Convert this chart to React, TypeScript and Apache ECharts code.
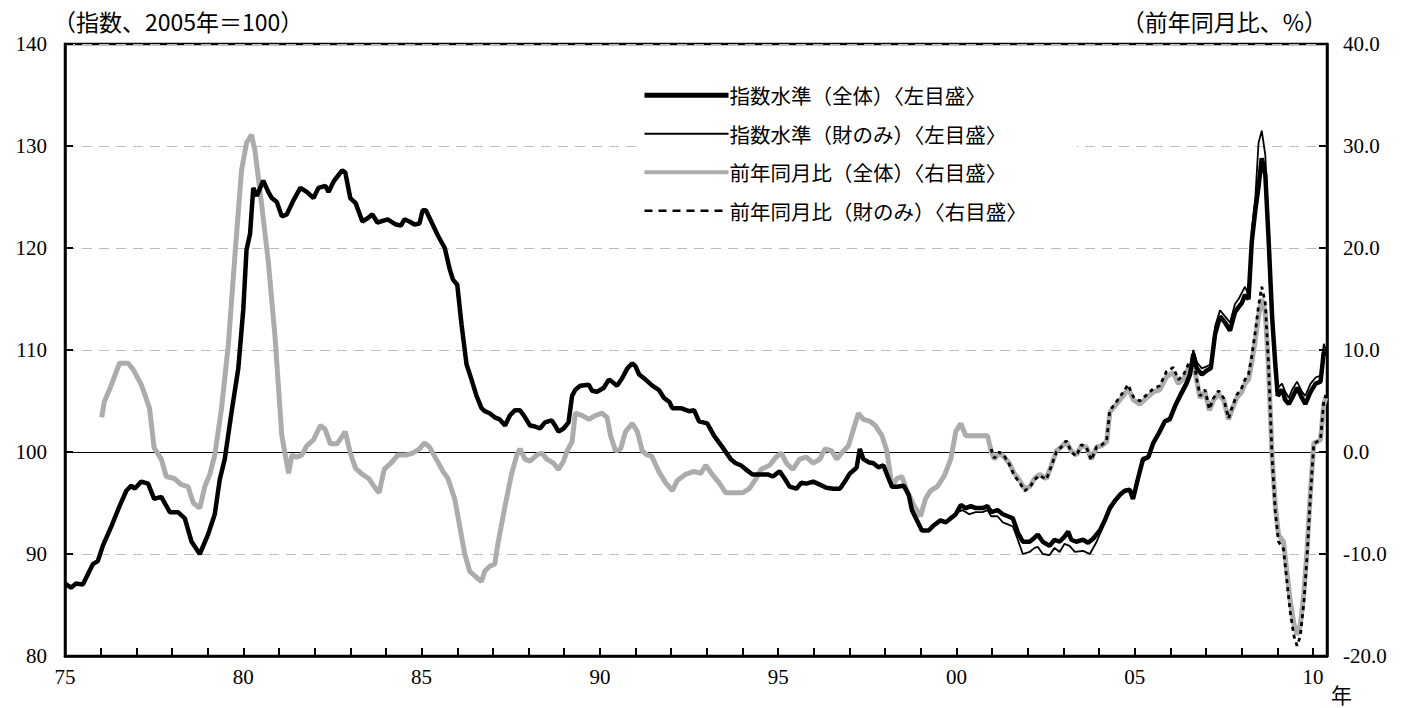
import React, { useEffect, useRef } from "react";
import * as echarts from "echarts";

// 消費者物価指数（指数水準、2005年=100） [year, value]
const totalIndex: [number, number][] = [
  [1975.0, 87.1], [1975.17, 86.7], [1975.31, 87.1], [1975.5, 87.0], [1975.78, 89.0], [1975.92, 89.3],
  [1976.06, 90.8], [1976.3, 92.7], [1976.53, 94.7], [1976.72, 96.2], [1976.86, 96.7], [1976.95, 96.4],
  [1977.14, 97.1], [1977.33, 96.9], [1977.5, 95.4], [1977.7, 95.6], [1977.94, 94.1], [1978.17, 94.1],
  [1978.36, 93.5], [1978.55, 91.2], [1978.78, 90.0], [1979.01, 91.9], [1979.2, 93.9], [1979.34, 97.3],
  [1979.48, 99.3], [1979.67, 103.9], [1979.86, 108.2], [1980.0, 114.0], [1980.09, 119.8], [1980.19, 121.4],
  [1980.28, 125.9], [1980.38, 125.1], [1980.56, 126.6], [1980.7, 125.5], [1980.8, 124.9], [1980.94, 124.5],
  [1981.08, 123.1], [1981.22, 123.3], [1981.41, 124.7], [1981.6, 125.9], [1981.78, 125.5], [1981.97, 124.9],
  [1982.11, 125.9], [1982.3, 126.1], [1982.39, 125.5], [1982.53, 126.5], [1982.77, 127.6], [1982.86, 127.4],
  [1983.0, 124.9], [1983.15, 124.4], [1983.34, 122.6], [1983.48, 122.9], [1983.62, 123.3], [1983.76, 122.5],
  [1984.05, 122.8], [1984.28, 122.3], [1984.42, 122.2], [1984.52, 122.8], [1984.66, 122.6], [1984.8, 122.3],
  [1984.94, 122.4], [1985.03, 123.7], [1985.12, 123.7], [1985.27, 122.6], [1985.46, 121.2], [1985.65, 120.0],
  [1985.79, 117.9], [1985.88, 116.9], [1986.0, 116.4], [1986.12, 112.5], [1986.26, 108.6], [1986.4, 107.1],
  [1986.54, 105.5], [1986.68, 104.3], [1986.77, 104.0], [1986.91, 103.8], [1987.05, 103.4], [1987.19, 103.2],
  [1987.34, 102.6], [1987.48, 103.6], [1987.62, 104.1], [1987.76, 104.1], [1987.9, 103.4], [1988.04, 102.6],
  [1988.18, 102.5], [1988.32, 102.3], [1988.46, 102.9], [1988.65, 103.1], [1988.74, 102.6], [1988.84, 102.0],
  [1988.98, 102.3], [1989.12, 102.9], [1989.22, 105.5], [1989.31, 106.1], [1989.45, 106.5], [1989.69, 106.6],
  [1989.78, 106.0], [1989.92, 105.9], [1990.11, 106.3], [1990.25, 107.1], [1990.34, 106.9], [1990.48, 106.5],
  [1990.62, 107.2], [1990.77, 108.2], [1990.91, 108.7], [1991.0, 108.4], [1991.1, 107.6], [1991.28, 107.1],
  [1991.47, 106.5], [1991.65, 106.1], [1991.8, 105.3], [1991.95, 104.9], [1992.03, 104.3], [1992.27, 104.3],
  [1992.5, 104.0], [1992.64, 104.1], [1992.78, 103.0], [1993.01, 102.8], [1993.2, 101.6], [1993.43, 100.5],
  [1993.67, 99.3], [1993.81, 98.9], [1993.95, 98.7], [1994.09, 98.3], [1994.28, 97.8], [1994.47, 97.8],
  [1994.71, 97.8], [1994.85, 97.6], [1995.04, 98.1], [1995.18, 97.4], [1995.32, 96.6], [1995.51, 96.4],
  [1995.65, 97.0], [1995.79, 96.9], [1995.98, 97.1], [1996.17, 96.8], [1996.35, 96.5], [1996.54, 96.4],
  [1996.73, 96.4], [1996.87, 97.1], [1997.01, 97.9], [1997.15, 98.3], [1997.2, 98.5], [1997.29, 100.3],
  [1997.39, 99.3], [1997.53, 99.0], [1997.67, 98.9], [1997.81, 98.5], [1997.95, 98.7], [1998.05, 97.8],
  [1998.19, 96.6], [1998.33, 96.6], [1998.52, 96.7], [1998.66, 95.8], [1998.75, 94.3], [1998.89, 93.3],
  [1999.03, 92.3], [1999.22, 92.3], [1999.36, 92.8], [1999.55, 93.3], [1999.7, 93.1], [1999.84, 93.5],
  [1999.98, 93.9], [2000.12, 94.8], [2000.26, 94.5], [2000.4, 94.7], [2000.54, 94.5], [2000.73, 94.5],
  [2000.87, 94.7], [2000.97, 94.1], [2001.15, 94.3], [2001.3, 93.9], [2001.44, 93.7], [2001.58, 93.5],
  [2001.72, 92.1], [2001.86, 91.2], [2002.05, 91.2], [2002.19, 91.6], [2002.28, 91.9], [2002.42, 91.2],
  [2002.61, 90.8], [2002.75, 91.4], [2002.89, 91.2], [2003.03, 91.7], [2003.13, 92.2], [2003.22, 91.4],
  [2003.36, 91.2], [2003.55, 91.4], [2003.69, 91.1], [2003.83, 91.5], [2004.02, 92.3], [2004.16, 93.3],
  [2004.3, 94.5], [2004.44, 95.2], [2004.58, 95.8], [2004.72, 96.2], [2004.86, 96.3], [2004.95, 95.4],
  [2005.09, 97.4], [2005.23, 99.3], [2005.38, 99.5], [2005.52, 100.9], [2005.7, 102.0], [2005.84, 103.0],
  [2005.98, 103.2], [2006.13, 104.5], [2006.27, 105.5], [2006.45, 106.7], [2006.55, 107.6], [2006.64, 109.6],
  [2006.74, 108.2], [2006.88, 107.6], [2007.02, 108.0], [2007.13, 108.2], [2007.25, 111.5], [2007.39, 113.3],
  [2007.53, 112.7], [2007.67, 111.9], [2007.81, 113.7], [2007.91, 114.2], [2008.0, 114.6], [2008.09, 115.4],
  [2008.19, 115.0], [2008.28, 120.6], [2008.38, 123.7], [2008.47, 126.0], [2008.56, 128.8], [2008.66, 127.2],
  [2008.75, 121.0], [2008.85, 113.3], [2008.94, 108.6], [2009.01, 105.5], [2009.13, 106.1], [2009.22, 105.1],
  [2009.32, 104.7], [2009.41, 105.3], [2009.55, 106.3], [2009.69, 105.3], [2009.78, 104.7], [2009.93, 105.9],
  [2010.07, 106.7], [2010.21, 106.9], [2010.3, 109.8], [2010.36, 109.4],
];

const goodsIndex: [number, number][] = [
  [2000.03, 94.1], [2000.17, 94.3], [2000.36, 93.9], [2000.54, 94.1], [2000.73, 94.1], [2000.87, 94.3],
  [2000.97, 93.7], [2001.15, 93.7], [2001.3, 93.1], [2001.44, 92.9], [2001.58, 92.7], [2001.72, 91.4],
  [2001.86, 90.0], [2002.05, 90.2], [2002.19, 90.6], [2002.28, 90.7], [2002.42, 90.0], [2002.61, 89.9],
  [2002.75, 90.6], [2002.89, 90.2], [2003.03, 91.0], [2003.17, 90.8], [2003.32, 90.2], [2003.55, 90.3],
  [2003.74, 90.0], [2003.93, 91.2], [2004.11, 92.7], [2004.3, 94.3], [2004.49, 95.3], [2004.68, 96.0],
  [2004.86, 96.3], [2004.95, 95.6], [2005.09, 97.2], [2005.23, 99.1], [2005.38, 99.4], [2005.52, 100.8],
  [2005.7, 102.0], [2005.84, 103.1], [2005.98, 103.4], [2006.13, 104.8], [2006.27, 105.8], [2006.45, 107.0],
  [2006.55, 108.0], [2006.64, 110.0], [2006.74, 108.8], [2006.88, 108.2], [2007.02, 108.4], [2007.13, 108.6],
  [2007.25, 112.3], [2007.39, 113.9], [2007.53, 113.3], [2007.67, 112.7], [2007.81, 114.5], [2007.91, 115.0],
  [2008.0, 115.6], [2008.09, 116.2], [2008.19, 115.4], [2008.28, 121.8], [2008.38, 124.9], [2008.47, 130.3],
  [2008.56, 131.5], [2008.66, 129.1], [2008.75, 121.8], [2008.85, 113.7], [2008.94, 108.2], [2009.01, 106.3],
  [2009.13, 106.7], [2009.22, 105.9], [2009.32, 105.3], [2009.41, 106.1], [2009.55, 106.9], [2009.69, 105.9],
  [2009.78, 105.5], [2009.93, 106.7], [2010.07, 107.3], [2010.21, 107.5], [2010.3, 110.6], [2010.36, 110.0],
];

// 前年同月比（%）
const totalYoY: [number, number][] = [
  [1976.03, 3.4], [1976.1, 4.9], [1976.28, 6.4], [1976.53, 8.7], [1976.77, 8.7], [1976.91, 8.1],
  [1977.14, 6.6], [1977.37, 4.3], [1977.5, 0.4], [1977.7, -0.7], [1977.84, -2.4], [1978.07, -2.6],
  [1978.26, -3.2], [1978.45, -3.4], [1978.6, -5.0], [1978.78, -5.5], [1978.92, -3.4], [1979.06, -2.2],
  [1979.2, -0.3], [1979.39, 4.3], [1979.58, 10.5], [1979.77, 19.5], [1979.95, 27.6], [1980.09, 30.3],
  [1980.23, 31.1], [1980.33, 29.5], [1980.52, 24.1], [1980.7, 18.7], [1980.89, 11.3], [1981.08, 1.6],
  [1981.27, -2.1], [1981.36, -0.3], [1981.5, -0.5], [1981.64, -0.3], [1981.78, 0.6], [1981.97, 1.2],
  [1982.16, 2.6], [1982.3, 2.2], [1982.44, 0.8], [1982.63, 0.8], [1982.86, 2.0], [1983.0, -0.1],
  [1983.15, -1.6], [1983.34, -2.2], [1983.52, -2.6], [1983.67, -3.4], [1983.81, -4.0], [1983.95, -1.7],
  [1984.14, -1.1], [1984.33, -0.3], [1984.56, -0.3], [1984.75, -0.1], [1984.94, 0.3], [1985.08, 0.9],
  [1985.22, 0.5], [1985.41, -0.7], [1985.6, -1.9], [1985.74, -2.6], [1985.93, -4.6], [1986.07, -7.3],
  [1986.21, -10.0], [1986.35, -11.7], [1986.54, -12.3], [1986.68, -12.7], [1986.77, -11.7], [1986.91, -11.2],
  [1987.05, -11.0], [1987.15, -8.8], [1987.34, -5.3], [1987.52, -2.2], [1987.67, -0.3], [1987.76, 0.3],
  [1987.9, -0.7], [1988.04, -0.9], [1988.23, -0.3], [1988.37, -0.1], [1988.51, -0.7], [1988.7, -1.1],
  [1988.84, -1.7], [1988.98, -0.9], [1989.08, 0.1], [1989.22, 1.0], [1989.31, 3.8], [1989.5, 3.6],
  [1989.69, 3.2], [1989.88, 3.6], [1990.06, 3.8], [1990.2, 3.4], [1990.3, 1.6], [1990.44, 0.1],
  [1990.58, 0.3], [1990.72, 2.0], [1990.91, 2.8], [1991.05, 2.0], [1991.19, 0.1], [1991.33, -0.3],
  [1991.45, -0.4], [1991.65, -1.9], [1991.84, -3.0], [1992.03, -3.8], [1992.17, -2.8], [1992.4, -2.2],
  [1992.64, -1.9], [1992.83, -2.1], [1992.97, -1.3], [1993.15, -2.2], [1993.34, -3.0], [1993.53, -4.0],
  [1993.77, -4.0], [1994.0, -4.0], [1994.19, -3.6], [1994.38, -2.6], [1994.52, -1.7], [1994.76, -1.3],
  [1994.94, -0.5], [1995.09, -0.1], [1995.23, -1.1], [1995.41, -1.7], [1995.6, -0.7], [1995.79, -0.5],
  [1995.98, -1.1], [1996.17, -0.7], [1996.31, 0.3], [1996.5, 0.1], [1996.64, -0.7], [1996.83, 0.1],
  [1996.97, 0.6], [1997.11, 2.2], [1997.25, 3.8], [1997.39, 3.2], [1997.58, 3.0], [1997.72, 2.6],
  [1997.91, 1.6], [1998.05, 0.1], [1998.19, -3.4], [1998.33, -2.6], [1998.47, -2.4], [1998.61, -3.8],
  [1998.8, -5.2], [1998.99, -6.3], [1999.13, -4.6], [1999.27, -3.8], [1999.46, -3.4], [1999.65, -2.4],
  [1999.84, -0.7], [1999.98, 2.0], [2000.12, 2.8], [2000.26, 1.6], [2000.45, 1.6], [2000.64, 1.6],
  [2000.87, 1.6], [2000.97, 0.1], [2001.06, -0.7], [2001.2, -0.1], [2001.34, -0.5], [2001.48, -1.1],
  [2001.62, -2.1], [2001.77, -2.8], [2001.91, -3.6], [2002.05, -3.4], [2002.19, -2.6], [2002.33, -2.2],
  [2002.52, -2.6], [2002.66, -1.3], [2002.8, 0.1], [2002.94, 0.5], [2003.08, 1.0], [2003.22, 0.1],
  [2003.36, -0.3], [2003.5, 0.6], [2003.64, 0.5], [2003.78, -0.7], [2003.93, 0.5], [2004.07, 0.6],
  [2004.21, 1.0], [2004.3, 3.9], [2004.44, 4.5], [2004.58, 5.1], [2004.72, 5.7], [2004.81, 6.3],
  [2004.96, 5.1], [2005.14, 4.7], [2005.33, 5.3], [2005.52, 5.9], [2005.7, 6.1], [2005.89, 7.4],
  [2006.08, 7.8], [2006.22, 6.7], [2006.36, 7.1], [2006.5, 8.2], [2006.64, 8.8], [2006.74, 6.9],
  [2006.83, 5.3], [2006.97, 5.9], [2007.09, 4.1], [2007.21, 5.1], [2007.35, 5.7], [2007.49, 5.1],
  [2007.63, 3.2], [2007.72, 4.1], [2007.86, 5.3], [2008.0, 5.9], [2008.09, 6.7], [2008.19, 7.1],
  [2008.28, 8.8], [2008.38, 11.0], [2008.47, 13.3], [2008.56, 15.0], [2008.66, 13.7], [2008.75, 8.2],
  [2008.85, -0.3], [2008.94, -5.3], [2009.03, -8.1], [2009.17, -8.8], [2009.27, -11.9], [2009.36, -14.6],
  [2009.46, -16.8], [2009.55, -17.9], [2009.64, -17.0], [2009.74, -13.9], [2009.83, -9.6], [2009.92, -4.2],
  [2010.02, 0.9], [2010.11, 1.0], [2010.21, 1.2], [2010.3, 4.7], [2010.36, 5.3],
];

const goodsYoY: [number, number][] = [
  [2000.97, 0.3], [2001.06, -0.6], [2001.2, 0.0], [2001.34, -0.4], [2001.48, -1.2], [2001.62, -2.3],
  [2001.77, -3.0], [2001.91, -3.8], [2002.05, -3.5], [2002.19, -2.7], [2002.33, -2.3], [2002.52, -2.7],
  [2002.66, -1.4], [2002.8, 0.0], [2002.94, 0.5], [2003.08, 1.1], [2003.22, 0.0], [2003.36, -0.4],
  [2003.5, 0.7], [2003.64, 0.5], [2003.78, -0.8], [2003.93, 0.5], [2004.07, 0.7], [2004.21, 1.1],
  [2004.3, 4.1], [2004.44, 4.7], [2004.58, 5.4], [2004.72, 6.1], [2004.81, 6.6], [2004.96, 5.4],
  [2005.14, 5.0], [2005.33, 5.6], [2005.52, 6.2], [2005.7, 6.5], [2005.89, 7.9], [2006.08, 8.3],
  [2006.22, 7.1], [2006.36, 7.5], [2006.5, 8.6], [2006.64, 9.2], [2006.74, 7.1], [2006.83, 5.5],
  [2006.97, 6.1], [2007.09, 4.2], [2007.21, 5.3], [2007.35, 6.0], [2007.49, 5.3], [2007.63, 3.3],
  [2007.72, 4.3], [2007.86, 5.6], [2008.0, 6.3], [2008.09, 7.1], [2008.19, 7.6], [2008.28, 9.4],
  [2008.38, 11.8], [2008.47, 14.3], [2008.56, 16.2], [2008.66, 14.6], [2008.75, 8.6], [2008.85, -0.5],
  [2008.94, -5.8], [2009.03, -8.8], [2009.17, -9.5], [2009.27, -12.8], [2009.36, -15.7], [2009.46, -18.0],
  [2009.55, -19.0], [2009.64, -18.1], [2009.74, -14.8], [2009.83, -10.3], [2009.92, -4.6], [2010.02, 0.8],
  [2010.11, 1.0], [2010.21, 1.3], [2010.3, 5.0], [2010.36, 5.6],
];

const seriesNames = [
  "指数水準（全体）〈左目盛〉",
  "指数水準（財のみ）〈左目盛〉",
  "前年同月比（全体）〈右目盛〉",
  "前年同月比（財のみ）〈右目盛〉",
];
const leftAxisTitle = "（指数、2005年＝100）";
const rightAxisTitle = "（前年同月比、%）";
const xUnit = "年";

const FONT = "'Liberation Serif', 'DejaVu Serif', 'Noto Sans CJK JP', serif";
const JFONT = "'Noto Sans CJK JP', 'Liberation Serif', serif";

const GRAY = "#acacac";

export default function App() {
  const ref = useRef<HTMLDivElement>(null);
  useEffect(() => {
    if (!ref.current) return;
    const chart = echarts.init(ref.current, undefined, { renderer: "svg" });
    const axisLine = { show: true, onZero: false, lineStyle: { color: "#000", width: 2.5 } };
    const axisTick = { show: true, inside: true, length: 8, lineStyle: { color: "#000", width: 2 } };
    chart.setOption({
      animation: false,
      backgroundColor: "#fff",
      grid: {
        left: 65, right: 78, top: 44, bottom: 52,
        show: true, borderColor: "#000", borderWidth: 2.5, backgroundColor: "transparent",
      },
      legend: {
        orient: "vertical",
        left: 636,
        top: 81,
        itemWidth: 84,
        itemHeight: 14,
        itemGap: 18,
        padding: [4, 50, 4, 6],
        backgroundColor: "#fff",
        textStyle: { fontFamily: JFONT, fontSize: 20.5, color: "#000", padding: [0, 0, 0, -4] },
        data: [
          { name: seriesNames[0], lineStyle: { color: "#000", width: 5 }, itemStyle: { opacity: 0 } },
          { name: seriesNames[1], lineStyle: { color: "#000", width: 2 }, itemStyle: { opacity: 0 } },
          { name: seriesNames[2], lineStyle: { color: GRAY, width: 4 }, itemStyle: { opacity: 0 } },
          {
            name: seriesNames[3],
            lineStyle: { color: "#000", width: 2.5, type: [8, 6] },
            itemStyle: { opacity: 0 },
          },
        ],
      },
      xAxis: {
        type: "value",
        min: 1975,
        max: 2010.39,
        interval: 1,
        axisLine,
        axisTick,
        splitLine: { show: false },
        axisLabel: {
          color: "#000",
          fontFamily: FONT,
          fontSize: 21,
          margin: 10,
          formatter: (v: number) => {
            const r = Math.round(v);
            if (Math.abs(v - r) > 1e-6 || r % 5 !== 0) return "";
            return String(r % 100).padStart(2, "0");
          },
        },
      },
      yAxis: [
        {
          type: "value",
          min: 80,
          max: 140,
          interval: 10,
          axisLine,
          axisTick,
          axisLabel: { color: "#000", fontFamily: FONT, fontSize: 21, margin: 18 },
          splitLine: { show: true, lineStyle: { color: "#bdbdbd", width: 1, type: [10, 7] } },
        },
        {
          type: "value",
          min: -20,
          max: 40,
          interval: 10,
          position: "right",
          axisLine,
          axisTick,
          axisLabel: {
            color: "#000",
            fontFamily: FONT,
            fontSize: 21,
            margin: 16,
            formatter: (v: number) => v.toFixed(1),
          },
          splitLine: { show: false },
        },
      ],
      series: [
        {
          name: seriesNames[0],
          type: "line",
          yAxisIndex: 0,
          data: totalIndex,
          symbol: "none",
          z: 6,
          lineStyle: { color: "#000", width: 4.5 },
          itemStyle: { color: "#000" },
          markLine: {
            silent: true,
            symbol: "none",
            label: { show: false },
            lineStyle: { color: "#000", width: 1, type: "solid" },
            data: [{ yAxis: 100 }],
            z: 1,
          },
        },
        {
          name: seriesNames[1],
          type: "line",
          yAxisIndex: 0,
          data: goodsIndex,
          symbol: "none",
          z: 5,
          lineStyle: { color: "#000", width: 1.8 },
          itemStyle: { color: "#000" },
        },
        {
          name: seriesNames[2],
          type: "line",
          yAxisIndex: 1,
          data: totalYoY,
          symbol: "none",
          z: 3,
          lineStyle: { color: GRAY, width: 5 },
          itemStyle: { color: GRAY },
        },
        {
          name: seriesNames[3],
          type: "line",
          yAxisIndex: 1,
          data: goodsYoY,
          symbol: "none",
          z: 4,
          lineStyle: { color: "#000", width: 2.8, type: [4, 4] },
          itemStyle: { color: "#000" },
        },
      ],
      graphic: [
        {
          type: "text",
          left: 53,
          top: 9,
          style: { text: leftAxisTitle, font: `23px ${JFONT}`, fill: "#000" },
        },
        {
          type: "text",
          right: 78,
          top: 9,
          style: { text: rightAxisTitle, font: `23px ${JFONT}`, fill: "#000" },
        },
        {
          type: "text",
          left: 1331,
          top: 683,
          style: { text: xUnit, font: `21px ${JFONT}`, fill: "#000" },
        },
      ],
    });
    return () => chart.dispose();
  }, []);
  return (
    <div
      ref={ref}
      style={{ position: "fixed", left: 0, top: 0, width: 1405, height: 708, background: "#fff" }}
    />
  );
}
